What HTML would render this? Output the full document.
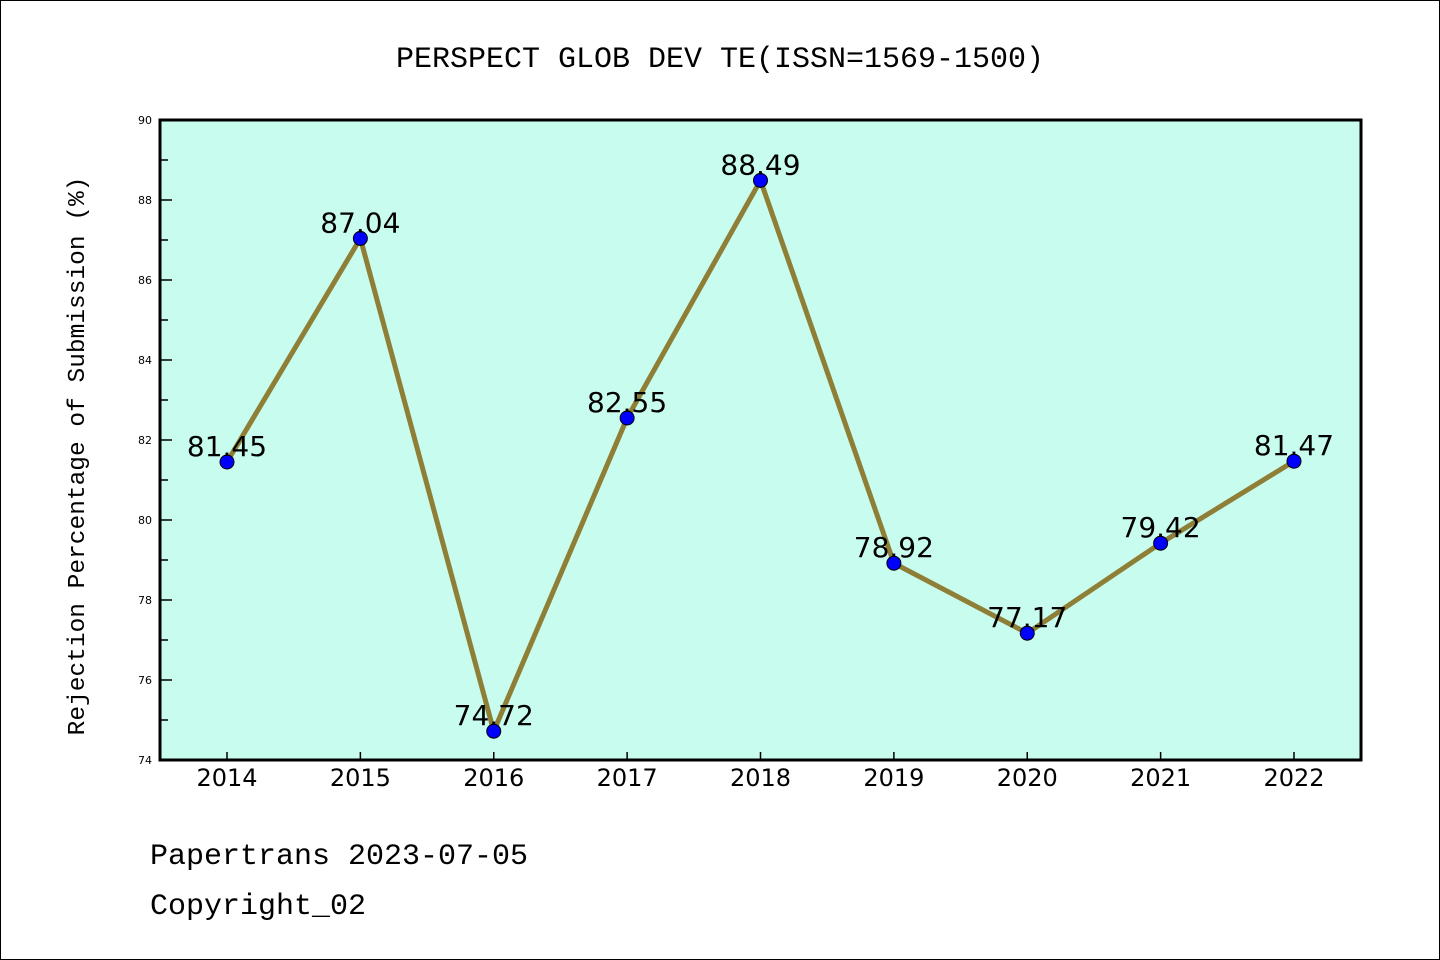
<!DOCTYPE html>
<html><head><meta charset="utf-8"><style>
html,body{margin:0;padding:0;background:#fff}
svg{display:block}
.mono{font-family:"WenQuanYi Zen Hei","Liberation Mono",monospace}
.dv{font-family:"DejaVu Sans","Liberation Sans",sans-serif}
</style></head><body>
<svg id="chart" width="1440" height="960">
<rect x="0.5" y="0.5" width="1439" height="959" fill="#fff" stroke="#000"/>
<text x="720" y="67" text-anchor="middle" font-size="30" class="mono">PERSPECT GLOB DEV TE(ISSN=1569-1500)</text>
<rect x="160" y="120" width="1201" height="640" fill="#c8fcee"/>
<g id="yaxis"></g>
<g id="xaxis"></g>
<g id="series"></g>
<rect x="160" y="120" width="1201" height="640" fill="none" stroke="#000" stroke-width="3"/>
<text transform="translate(84,456) rotate(-90)" text-anchor="middle" font-size="24.5" class="mono">Rejection Percentage of Submission (%)</text>
<text x="150" y="864" font-size="30" class="mono">Papertrans 2023-07-05</text>
<text x="150" y="914" font-size="30" class="mono">Copyright_02</text>
</svg>
<script>
const years=[2014,2015,2016,2017,2018,2019,2020,2021,2022];
const values=[81.45,87.04,74.72,82.55,88.49,78.92,77.17,79.42,81.47];
const yTicks=[74,76,78,80,82,84,86,88,90];
const NS="http://www.w3.org/2000/svg";
const x=i=>227+i*133.375;
const y=v=>760-(v-74)*40;
function mk(t,a,p){const e=document.createElementNS(NS,t);for(const k in a)e.setAttribute(k,a[k]);p.appendChild(e);return e;}
const ya=document.getElementById('yaxis'),xa=document.getElementById('xaxis'),se=document.getElementById('series');
for(let v=75;v<90;v+=2){const m=mk('line',{x1:160,x2:168,y1:y(v),y2:y(v),stroke:'#000','stroke-width':1.5},ya);

}
yTicks.forEach(v=>{const m=mk('line',{x1:160,x2:172,y1:y(v),y2:y(v),stroke:'#000','stroke-width':1.5},ya);


const t=mk('text',{x:152,y:y(v)+4,'text-anchor':'end','font-size':11,class:'dv'},ya);t.textContent=v;

});
years.forEach((yr,i)=>{const m=mk('line',{x1:x(i),x2:x(i),y1:760,y2:752,stroke:'#000','stroke-width':1.5},xa);


const t=mk('text',{x:x(i),y:786,'text-anchor':'middle','font-size':24,class:'dv'},xa);t.textContent=yr;

});
const pl=mk('polyline',{points:values.map((v,i)=>x(i)+','+y(v)).join(' '),fill:'none',stroke:'#8f7f36','stroke-width':5,'stroke-linejoin':'miter'},se);


values.forEach((v,i)=>{const c=mk('circle',{cx:x(i),cy:y(v),r:7,fill:'#0000ff',stroke:'#000','stroke-width':1},se);

});
values.forEach((v,i)=>{const t=mk('text',{x:x(i),y:y(v)-6,'text-anchor':'middle','font-size':28,class:'dv'},se);t.textContent=v.toFixed(2);

});
</script>
</body></html>
